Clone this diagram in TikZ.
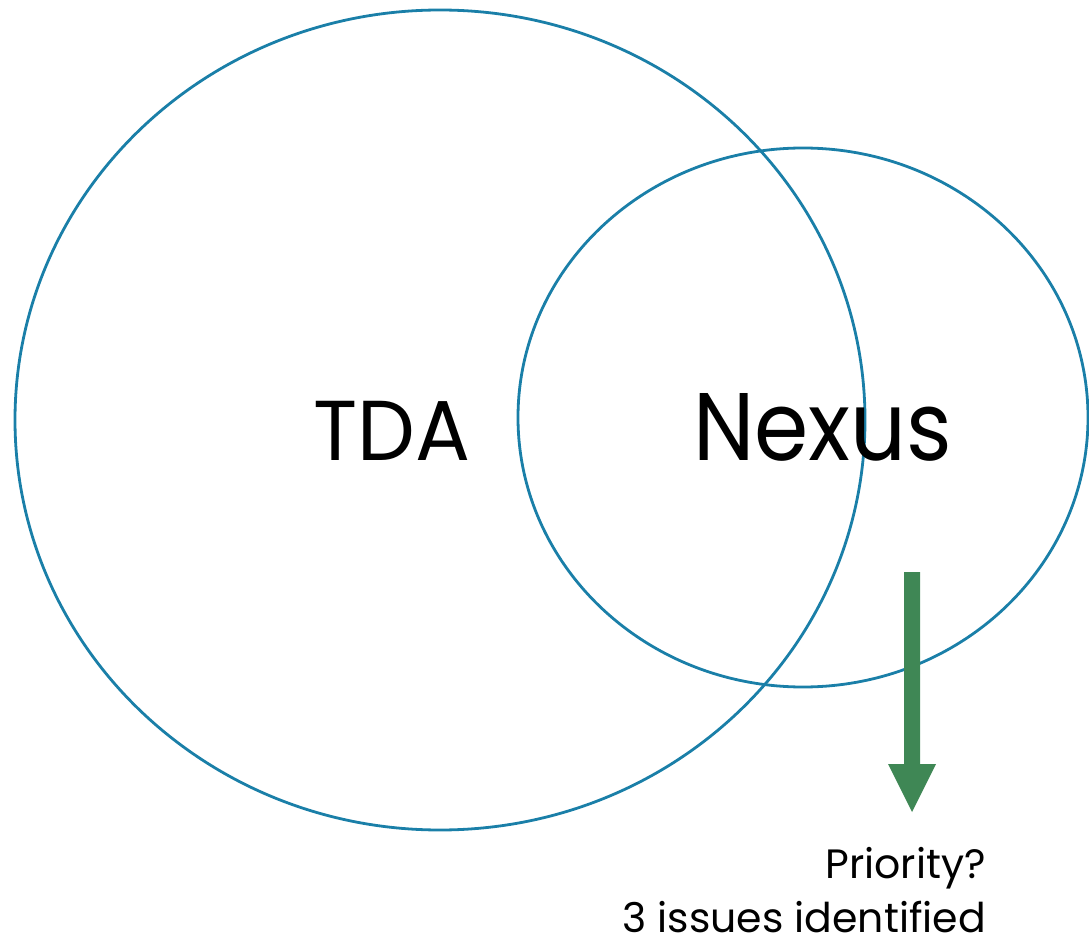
\documentclass[tikz,border=0pt]{standalone}
\usepackage{fontspec}
\setmainfont{Poppins}
\definecolor{ringblue}{HTML}{1A7FA8}
\definecolor{arrowgreen}{HTML}{3F8755}
\begin{document}
\begin{tikzpicture}[x=1pt,y=-1pt,
  ring/.style={draw=ringblue,line width=2.8pt},
  label/.style={inner sep=0pt,text=black},
  note/.style={label,anchor=base east,font=\fontsize{41}{44}\selectfont},
]
\useasboundingbox (0,0) rectangle (1089,949);
% the two overlapping sets
\draw[ring] (440,420) ellipse [x radius=425,y radius=410];
\draw[ring] (803,417.5) ellipse [x radius=285,y radius=269.5];
% set labels
\node[label,anchor=base west,font=\fontsize{85}{90}\selectfont] (tda) at (313,460) {\scalebox{0.96}[1]{TDA}};
\node[label,anchor=base west,font=\fontsize{96}{100}\selectfont] (nexus) at (693,460) {\scalebox{0.91}[1]{Nexus}};
% downward block arrow
\fill[arrowgreen] (904,572) -- (920,572) -- (920,764) -- (936,764) -- (912,812)
  -- (888,764) -- (904,764) -- cycle;
\node[note] (prio) at (986,878) {Priority?};
\node[note] (issues) at (986,932) {3 issues identified};
\end{tikzpicture}
\end{document}
